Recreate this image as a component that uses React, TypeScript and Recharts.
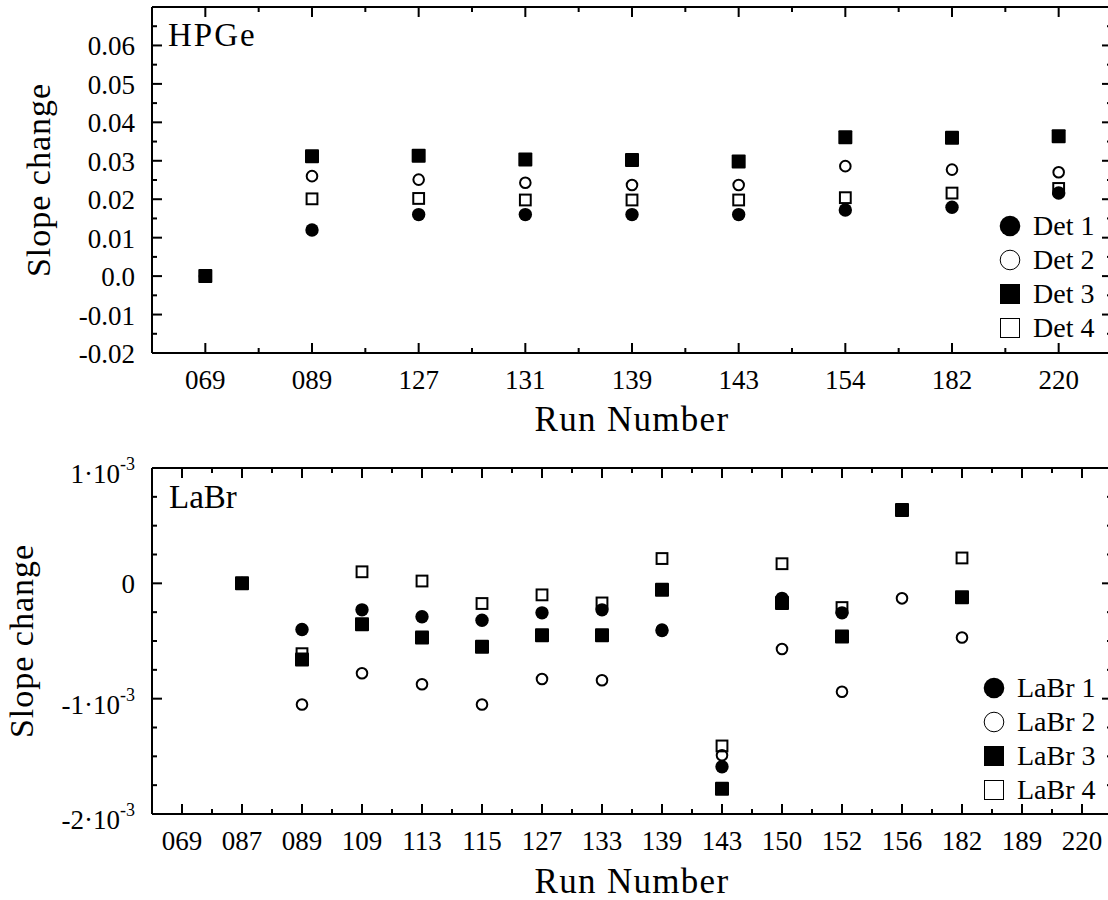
import React from 'react';
import { ScatterChart, Scatter, XAxis, YAxis, Legend } from 'recharts';

const FONT = "'Liberation Serif', 'Times New Roman', serif";
const INK = '#000';

// HPGe panel
const hpgeRuns = ['069', '089', '127', '131', '139', '143', '154', '182', '220'];
const det1 = [0, 0.012, 0.016, 0.016, 0.016, 0.016, 0.0172, 0.0179, 0.0216];
const det2 = [0, 0.026, 0.0251, 0.0243, 0.0237, 0.0237, 0.0286, 0.0277, 0.027];
const det3 = [0, 0.0312, 0.0313, 0.0303, 0.0302, 0.0298, 0.0361, 0.036, 0.0364];
const det4 = [0, 0.0201, 0.0202, 0.0198, 0.0198, 0.0198, 0.0204, 0.0216, 0.0228];
const hpgeYMajor = [-0.02, -0.01, 0, 0.01, 0.02, 0.03, 0.04, 0.05, 0.06];
const hpgeYLabels = ['-0.02', '-0.01', '0.0', '0.01', '0.02', '0.03', '0.04', '0.05', '0.06'];
const hpgeYMinor = [-0.015, -0.005, 0.005, 0.015, 0.025, 0.035, 0.045, 0.055, 0.065];

// LaBr panel
const labrRuns = ['069', '087', '089', '109', '113', '115', '127', '133', '139', '143', '150', '152', '156', '182', '189', '220'];
const labr1 = [null, 0, -0.40e-3, -0.23e-3, -0.29e-3, -0.32e-3, -0.256e-3, -0.23e-3, -0.41e-3, -1.59e-3, -0.13e-3, -0.256e-3, null, null, null, null];
const labr2 = [null, 0, -1.05e-3, -0.78e-3, -0.875e-3, -1.05e-3, -0.83e-3, -0.84e-3, -0.40e-3, -1.49e-3, -0.57e-3, -0.94e-3, -0.13e-3, -0.47e-3, null, null];
const labr3 = [null, 0, -0.66e-3, -0.355e-3, -0.47e-3, -0.55e-3, -0.45e-3, -0.45e-3, -0.055e-3, -1.78e-3, -0.17e-3, -0.46e-3, 0.635e-3, -0.12e-3, null, null];
const labr4 = [null, 0, -0.61e-3, 0.10e-3, 0.02e-3, -0.175e-3, -0.10e-3, -0.17e-3, 0.215e-3, -1.41e-3, 0.17e-3, -0.21e-3, null, 0.22e-3, null, null];
const labrYMajor = [-0.002, -0.001, 0, 0.001];
const labrYMantissa = ['-2', '-1', '0', '1'];
const labrYMinor = [-0.00175, -0.0015, -0.00125, -0.00075, -0.0005, -0.00025, 0.00025, 0.0005, 0.00075];

type Kind = 'dot' | 'ring' | 'block' | 'box';
// mirror: plotted against the top/right axes (same fixed domains) so the frame axes get drawn
interface SeriesDef { name: string; values: (number | null)[]; kind: Kind; mirror: boolean }

const hpgeSeries: SeriesDef[] = [
  { name: 'Det 1', values: det1, kind: 'dot', mirror: false },
  { name: 'Det 2', values: det2, kind: 'ring', mirror: false },
  { name: 'Det 3', values: det3, kind: 'block', mirror: true },
  { name: 'Det 4', values: det4, kind: 'box', mirror: true },
];
const labrSeries: SeriesDef[] = [
  { name: 'LaBr 1', values: labr1, kind: 'dot', mirror: false },
  { name: 'LaBr 2', values: labr2, kind: 'ring', mirror: false },
  { name: 'LaBr 3', values: labr3, kind: 'block', mirror: true },
  { name: 'LaBr 4', values: labr4, kind: 'box', mirror: true },
];

const toPoints = (values: (number | null)[]) =>
  values.flatMap((v, i) => (v === null ? [] : [{ x: i, y: v }]));

const xTicksFor = (runs: string[]) => [
  ...runs.map((_, i) => i),
  ...runs.slice(1).map((_, i) => i + 0.5),
];

const findTick = (arr: number[], v: number) => arr.findIndex((a) => Math.abs(a - v) < 1e-9);

const AXIS_LINE = { stroke: INK, strokeWidth: 2 };

function Marker({ kind, cx, cy }: { kind: Kind; cx: number; cy: number }) {
  if (kind === 'dot') return <circle cx={cx} cy={cy} r={6.7} fill={INK} />;
  if (kind === 'ring') return <circle cx={cx} cy={cy} r={5.3} fill="none" stroke={INK} strokeWidth={2} />;
  if (kind === 'block') return <rect x={cx - 7} y={cy - 7} width={14} height={14} rx={1} fill={INK} />;
  return <rect x={cx - 5.4} y={cy - 5.4} width={10.8} height={10.8} fill="none" stroke={INK} strokeWidth={2} />;
}

function LegendIcon({ kind }: { kind: Kind }) {
  if (kind === 'dot') return <circle cx={11} cy={11} r={10.3} fill={INK} />;
  if (kind === 'ring') return <circle cx={11} cy={11} r={9.8} fill="none" stroke={INK} strokeWidth={1} />;
  if (kind === 'block') return <rect x={1} y={1} width={20} height={20} fill={INK} />;
  return <rect x={1.5} y={1.5} width={19} height={19} fill="none" stroke={INK} strokeWidth={1} />;
}

const legendContent = (series: SeriesDef[]) => () => (
  <div style={{ fontFamily: FONT, fontSize: 28, color: INK }}>
    {series.map((s) => (
      <div key={s.name} style={{ display: 'flex', alignItems: 'center', height: 34, whiteSpace: 'nowrap' }}>
        <svg width={22} height={22} style={{ display: 'block' }}>
          <LegendIcon kind={s.kind} />
        </svg>
        <span style={{ marginLeft: 12, lineHeight: '34px' }}>{s.name}</span>
      </div>
    ))}
  </div>
);

// tick marks as thin rects pointing into the plot; long at labels, short between
const mark = (x: number, y: number, w: number, h: number) => (
  <rect x={x} y={y} width={w} height={h} fill={INK} stroke="none" />
);

const bottomTick = (runs: string[]) => (props: any) => {
  const { x, y, payload } = props;
  const major = Number.isInteger(payload.value);
  const len = major ? 10 : 5;
  return (
    <g>
      {mark(x - 1, y - len, 2, len)}
      {major && (
        <text x={x} y={y + 36} textAnchor="middle" fontSize={27} fontFamily={FONT} fill={INK}>
          {runs[payload.value]}
        </text>
      )}
    </g>
  );
};

const topTick = (props: any) => {
  const { x, y, payload } = props;
  const len = Number.isInteger(payload.value) ? 10 : 5;
  return <g>{mark(x - 1, y, 2, len)}</g>;
};

const hpgeLeftTick = (props: any) => {
  const { x, y, payload } = props;
  const idx = findTick(hpgeYMajor, payload.value);
  const major = idx >= 0;
  const len = major ? 10 : 5;
  return (
    <g>
      {mark(x, y - 1, len, 2)}
      {major && (
        <text x={x - 17} y={y + 10} textAnchor="end" fontSize={27} fontFamily={FONT} fill={INK}>
          {hpgeYLabels[idx]}
        </text>
      )}
    </g>
  );
};

const labrLeftTick = (props: any) => {
  const { x, y, payload } = props;
  const idx = findTick(labrYMajor, payload.value);
  const major = idx >= 0;
  const m = major ? labrYMantissa[idx] : '';
  const len = major ? 10 : 5;
  return (
    <g>
      {mark(x, y - 1, len, 2)}
      {major && m === '0' && (
        <text x={x - 17} y={y + 10} textAnchor="end" fontSize={27} fontFamily={FONT} fill={INK}>0</text>
      )}
      {major && m !== '0' && (
        <text x={x - 17} y={y + 15} textAnchor="end" fontSize={27} fontFamily={FONT} fill={INK}>
          {`${m}\u00b710`}
          <tspan fontSize={18} dy={-13}>-3</tspan>
        </text>
      )}
    </g>
  );
};

const rightTick = (majors: number[]) => (props: any) => {
  const { x, y, payload } = props;
  const len = findTick(majors, payload.value) >= 0 ? 10 : 5;
  return <g>{mark(x - len, y - 1, len, 2)}</g>;
};

const xTitle = (baseline: number) => (props: any) => {
  const vb = props.viewBox;
  return (
    <text x={vb.x + vb.width / 2} y={vb.y + baseline} textAnchor="middle" fontSize={35}
      letterSpacing={1.3} fontFamily={FONT} fill={INK}>
      Run Number
    </text>
  );
};

const yTitle = (baselineX: number) => (props: any) => {
  const vb = props.viewBox;
  const cy = vb.y + vb.height / 2;
  return (
    <text x={baselineX} y={cy} transform={`rotate(-90, ${baselineX}, ${cy})`} textAnchor="middle"
      fontSize={34} letterSpacing={1} fontFamily={FONT} fill={INK}>
      Slope change
    </text>
  );
};

interface PanelProps {
  runs: string[];
  series: SeriesDef[];
  yDomain: [number, number];
  yMajor: number[];
  yMinor: number[];
  leftTick: (p: any) => React.ReactElement;
  height: number;
  marginTop: number;
  xAxisHeight: number;
  titleBaseline: number;
  yTitleX: number;
  legendTop: number;
  legendLeft: number;
}

function Panel(p: PanelProps) {
  const xDomain: [number, number] = [-0.5, p.runs.length - 0.5];
  const xTicks = xTicksFor(p.runs);
  const yTicks = [...p.yMajor, ...p.yMinor];
  return (
    <ScatterChart width={1120} height={p.height} margin={{ top: p.marginTop - 1, right: 7, bottom: 0, left: 0 }}>
      <XAxis xAxisId="bottom" type="number" dataKey="x" domain={xDomain} ticks={xTicks} interval={0} allowDataOverflow
        tickSize={0} tickMargin={0} tickLine={false} axisLine={AXIS_LINE} tick={bottomTick(p.runs)}
        height={p.xAxisHeight} label={{ content: xTitle(p.titleBaseline) }} />
      <XAxis xAxisId="top" orientation="top" type="number" dataKey="x" domain={xDomain} ticks={xTicks}
        interval={0} allowDataOverflow tickSize={0} tickMargin={0} tickLine={false} axisLine={AXIS_LINE}
        tick={topTick} height={1} />
      <YAxis yAxisId="left" type="number" dataKey="y" domain={p.yDomain} ticks={yTicks} interval={0} allowDataOverflow
        tickSize={0} tickMargin={0} tickLine={false} axisLine={AXIS_LINE} tick={p.leftTick} width={152}
        label={{ content: yTitle(p.yTitleX) }} />
      <YAxis yAxisId="right" orientation="right" type="number" dataKey="y" domain={p.yDomain} ticks={yTicks}
        interval={0} allowDataOverflow tickSize={0} tickMargin={0} tickLine={false} axisLine={AXIS_LINE}
        tick={rightTick(p.yMajor)} width={1} />
      {p.series.map((s) => (
        <Scatter key={s.name} name={s.name} data={toPoints(s.values)} isAnimationActive={false}
          xAxisId={s.mirror ? 'top' : 'bottom'} yAxisId={s.mirror ? 'right' : 'left'}
          shape={(sp: any) => <Marker kind={s.kind} cx={sp.cx} cy={sp.cy} />} />
      ))}
      <Legend layout="vertical" align="center" verticalAlign="middle" content={legendContent(p.series)}
        wrapperStyle={{ left: p.legendLeft, top: p.legendTop, width: 130, margin: 0 }} />
    </ScatterChart>
  );
}

const panelLabel: React.CSSProperties = {
  position: 'absolute',
  fontFamily: FONT,
  fontSize: 33,
  lineHeight: 1,
  color: INK,
  whiteSpace: 'nowrap',
};

export default function App() {
  return (
    <div style={{ position: 'absolute', left: 0, top: 0, width: 1108, height: 900, overflow: 'hidden', background: '#fff' }}>
      <div style={{ position: 'absolute', left: 0, top: 0 }}>
        <Panel runs={hpgeRuns} series={hpgeSeries} yDomain={[-0.02, 0.07]} yMajor={hpgeYMajor} yMinor={hpgeYMinor}
          leftTick={hpgeLeftTick} height={440} marginTop={7} xAxisHeight={87} titleBaseline={78} yTitleX={50}
          legendTop={209} legendLeft={999} />
      </div>
      <div style={{ position: 'absolute', left: 0, top: 440 }}>
        <Panel runs={labrRuns} series={labrSeries} yDomain={[-0.002, 0.001]} yMajor={labrYMajor} yMinor={labrYMinor}
          leftTick={labrLeftTick} height={460} marginTop={28} xAxisHeight={86} titleBaseline={79} yTitleX={33}
          legendTop={231} legendLeft={983} />
      </div>
      <div style={{ ...panelLabel, left: 168, top: 19, letterSpacing: 2 }}>HPGe</div>
      <div style={{ ...panelLabel, left: 169, top: 481 }}>LaBr</div>
    </div>
  );
}
